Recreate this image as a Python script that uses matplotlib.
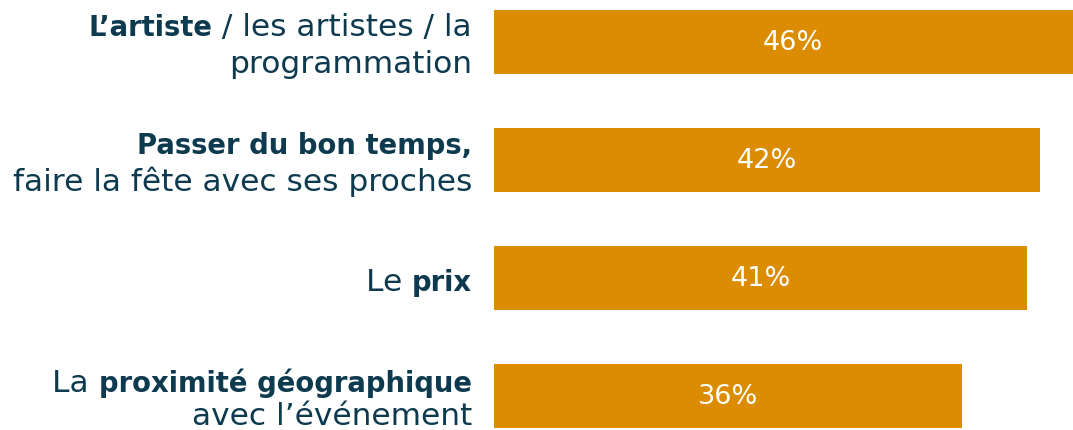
import matplotlib
matplotlib.use("Agg")
import matplotlib.pyplot as plt

# Data
categories = [
    [[("L\u2019artiste", True), (" / les artistes / la", False)], [("programmation", False)]],
    [[("Passer du bon temps,", True)], [("faire la f\u00eate avec ses proches", False)]],
    [[("Le ", False), ("prix", True)]],
    [[("La ", False), ("proximit\u00e9 g\u00e9ographique", True)], [("avec l\u2019\u00e9v\u00e9nement", False)]],
]
values = [46, 42, 41, 36]
value_labels = ["46%", "42%", "41%", "36%"]

BAR_COLOR = "#DB8C00"
TEXT_COLOR = "#0D3A4E"
FONT = "DejaVu Sans"
LABEL_SIZE = 22.5
BOLD_SIZE = 19.8
VALUE_SIZE = 19.5

W, H = 1073, 431
fig = plt.figure(figsize=(W / 100, H / 100), dpi=100)
x0 = 494.3 / W
ax = fig.add_axes([x0, 0, 1 - x0, 1])
ax.set_xlim(0, (W - 494.3) / 13.0)
ax.set_ylim(3.289, -0.366)
ax.axis("off")

ypos = list(range(len(values)))
ax.barh(ypos, values, height=0.541, color=BAR_COLOR, clip_on=True)
for y, v, lab in zip(ypos, values, value_labels):
    ax.text(v / 2, y, lab, ha="center", va="center", color="white",
            fontsize=VALUE_SIZE, family=FONT, fontweight="normal")

renderer = fig.canvas.get_renderer()
label_right = 472 / W
line_gaps = [36.5, 36.5, 0, 32.3]  # px between baselines
base_off = 11.5  # px from line-group centre to baseline

for y, lines, gap in zip(ypos, categories, line_gaps):
    n = len(lines)
    center_top = H - ax.transData.transform((0, y))[1]  # px from top
    for i, segs in enumerate(lines):
        baseline_top = center_top - (n - 1) * gap / 2 + i * gap + base_off
        xr = label_right
        for text, bold in reversed(segs):
            t = fig.text(xr, 1 - baseline_top / H, text, ha="right", va="baseline",
                         color=TEXT_COLOR,
                         fontsize=BOLD_SIZE if bold else LABEL_SIZE, family=FONT,
                         fontweight="bold" if bold else "normal")
            bb = t.get_window_extent(renderer)
            xr = bb.x0 / W

fig.savefig("out.png", dpi=100)
